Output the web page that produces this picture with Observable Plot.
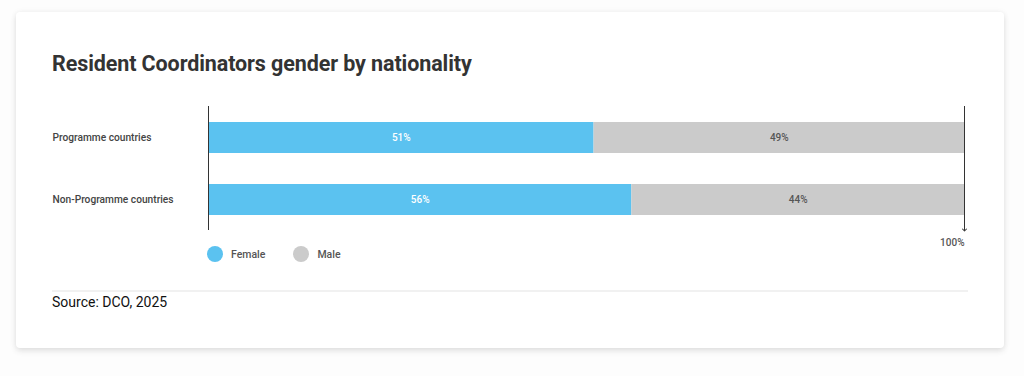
<!DOCTYPE html>
<html>
<head>
<meta charset="utf-8">
<script src="https://cdn.jsdelivr.net/npm/d3@7"></script>
<script src="https://cdn.jsdelivr.net/npm/@observablehq/plot@0.6"></script>
<style>
  html, body { margin: 0; padding: 0; background: #fdfdfd; width: 1024px; height: 376px; overflow: hidden; font-family: Roboto, "Noto Sans", sans-serif; }
  #card { position: absolute; left: 16px; top: 12px; width: 988px; height: 336px; background: #fff; border-radius: 4px; box-shadow: 0 3px 6px rgba(0,0,0,0.10), 0 0 6px rgba(0,0,0,0.05); }
  #title { position: absolute; left: 52px; top: 51px; font-size: 21.5px; font-weight: 700; color: #333; letter-spacing: -0.1px; }
  #chart { position: absolute; left: 52px; top: 100px; }
  #legend { position: absolute; left: 207px; top: 246px; display: flex; align-items: center; font-size: 10.5px; font-weight: 500; color: #555; }
  .sw { width: 16px; height: 16px; border-radius: 50%; display: inline-block; margin-right: 8px; }
  .item { display: flex; align-items: center; margin-right: 28px; }
  #sep { position: absolute; left: 52px; top: 290px; width: 916px; height: 2px; background: #f1f1f1; }
  #source { position: absolute; left: 52px; top: 294px; font-size: 14px; color: #111; }
</style>
</head>
<body>
<div id="card"></div>
<div id="title">Resident Coordinators gender by nationality</div>
<div id="chart"></div>
<div id="legend"></div>
<div id="sep"></div>
<div id="source">Source: DCO, 2025</div>
<script>
const categories = ["Programme countries", "Non-Programme countries"];
const genders = ["Female", "Male"];
const female = [51, 56];
const male = [49, 44];
const colors = ["#5BC2F0", "#CBCBCB"];
const labelColors = ["#ffffff", "#555555"];
const axisEndLabel = "100%";

const data = [];
categories.forEach((c, i) => {
  data.push({category: c, gender: "Female", value: female[i]});
  data.push({category: c, gender: "Male", value: male[i]});
});

const plot = Plot.plot({
  width: 920,
  height: 150,
  marginLeft: 156,
  marginRight: 8,
  marginTop: 6,
  marginBottom: 20,
  style: {fontFamily: "Roboto, sans-serif", background: "transparent"},
  x: {domain: [0, 100], axis: null},
  y: {domain: categories, axis: null, paddingInner: 0.5, paddingOuter: 0.25},
  color: {domain: genders, range: colors},
  marks: [
    Plot.barX(data, Plot.stackX({y: "category", x: "value", fill: "gender", order: genders})),
    Plot.text(data, Plot.stackX({
      y: "category", x: "value", z: "gender", order: genders,
      text: d => d.value + "%",
      fill: d => labelColors[genders.indexOf(d.gender)],
      fontSize: 10, fontWeight: 500
    })),
    Plot.text(categories, {
      y: d => d, text: d => d, frameAnchor: "left", textAnchor: "start", dx: -156,
      fontSize: 10.2, fontWeight: 500, fill: "#444"
    }),
    Plot.ruleX([0], {stroke: "#333", strokeWidth: 1}),
    Plot.ruleX([100], {stroke: "#333", strokeWidth: 1, markerEnd: "arrow"}),
    Plot.text([axisEndLabel], {x: 100, text: d => d, frameAnchor: "bottom", dy: 15, textAnchor: "end", fontSize: 10, fontWeight: 500, fill: "#555"})
  ]
});
document.getElementById("chart").appendChild(plot);

const legend = document.getElementById("legend");
genders.forEach((g, i) => {
  const item = document.createElement("div");
  item.className = "item";
  item.innerHTML = `<span class="sw" style="background:${colors[i]}"></span><span>${g}</span>`;
  legend.appendChild(item);
});
</script>
</body>
</html>
